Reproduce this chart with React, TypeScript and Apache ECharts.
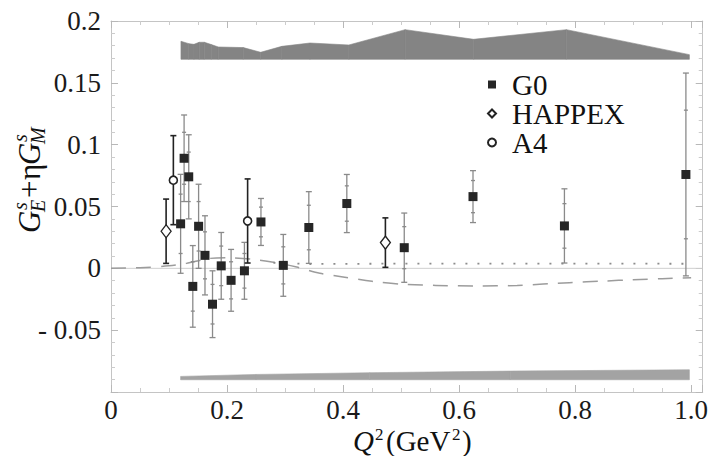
import React, { useEffect, useRef } from "react";
import * as echarts from "echarts";

// ---- data ----
const G0_Q2 = [0.12, 0.126, 0.134, 0.141, 0.151, 0.162, 0.175, 0.19, 0.207, 0.23, 0.2585, 0.297, 0.341, 0.4065, 0.5055, 0.624, 0.7816, 0.991];
const G0_VAL = [0.036, 0.089, 0.074, -0.0146, 0.034, 0.0105, -0.029, 0.002, -0.0097, -0.002, 0.0375, 0.0024, 0.033, 0.0524, 0.0167, 0.058, 0.0343, 0.0759];
const G0_ERR_TOT = [0.04, 0.035, 0.034, 0.033, 0.034, 0.032, 0.027, 0.027, 0.025, 0.023, 0.019, 0.025, 0.029, 0.0235, 0.028, 0.021, 0.03, 0.082];
const G0_ERR_STAT = [0.024, 0.021, 0.02, 0.02, 0.02, 0.019, 0.016, 0.016, 0.015, 0.014, 0.012, 0.015, 0.018, 0.0143, 0.017, 0.013, 0.018, 0.052];

const HAPPEX_Q2 = [0.095, 0.473];
const HAPPEX_VAL = [0.03, 0.0208];
const HAPPEX_ERR = [0.026, 0.02];

const A4_Q2 = [0.1075, 0.2355];
const A4_VAL = [0.0713, 0.0383];
const A4_ERR = [0.036, 0.034];

const DASHED_Q2 = [0, 0.05, 0.1, 0.13, 0.17, 0.2, 0.24, 0.28, 0.32, 0.36, 0.4, 0.45, 0.5, 0.56, 0.63, 0.7, 0.79, 0.85, 0.9, 0.95, 1.0];
const DASHED_VAL = [0, 0.0005, 0.002, 0.004, 0.008, 0.0085, 0.0075, 0.005, 0.001, -0.004, -0.007, -0.0105, -0.0128, -0.0138, -0.0143, -0.0138, -0.0116, -0.0103, -0.0092, -0.0084, -0.0076];

const DOTTED_Q2 = [0.28, 0.34, 0.5, 0.7, 0.85, 1.0];
const DOTTED_VAL = [0.0045, 0.0035, 0.0038, 0.0038, 0.0038, 0.0037];

const TOP_BAND_BASE = 0.169;
const TOP_BAND_Q2 = [0.1206, 0.134, 0.143, 0.152, 0.161, 0.173, 0.185, 0.228, 0.258, 0.2945, 0.343, 0.41, 0.507, 0.625, 0.785, 0.997];
const TOP_BAND_HEIGHT = [0.0146, 0.0127, 0.0121, 0.0138, 0.0138, 0.0119, 0.01, 0.0095, 0.0057, 0.0105, 0.0132, 0.0116, 0.024, 0.0162, 0.024, 0.0038];

const BOTTOM_BAND_BASE = -0.0901;
const BOTTOM_BAND_Q2 = [0.12, 0.25, 0.446, 0.688, 0.997];
const BOTTOM_BAND_HEIGHT = [0.0027, 0.0043, 0.0057, 0.007, 0.0081];

const X_MIN = 0;
const X_MAX = 1.02;
const Y_MIN = -0.1;
const Y_MAX = 0.2;

const SERIF = "Liberation Serif";

function errRender(color: string, width: number, cap: number, innerCap: number) {
  return (params: any, api: any) => {
    const x = api.value(0);
    const y = api.value(1);
    const e = api.value(2);
    const s = api.value(3);
    const top = api.coord([x, y + e]);
    const bot = api.coord([x, y - e]);
    const style = { stroke: color, lineWidth: width };
    const children: any[] = [
      { type: "line", shape: { x1: top[0], y1: top[1], x2: bot[0], y2: bot[1] }, style },
      { type: "line", shape: { x1: top[0] - cap, y1: top[1], x2: top[0] + cap, y2: top[1] }, style },
      { type: "line", shape: { x1: bot[0] - cap, y1: bot[1], x2: bot[0] + cap, y2: bot[1] }, style },
    ];
    if (s > 0) {
      const st = api.coord([x, y + s]);
      const sb = api.coord([x, y - s]);
      children.push({ type: "line", shape: { x1: st[0] - innerCap, y1: st[1], x2: st[0] + innerCap, y2: st[1] }, style });
      children.push({ type: "line", shape: { x1: sb[0] - innerCap, y1: sb[1], x2: sb[0] + innerCap, y2: sb[1] }, style });
    }
    return { type: "group", children };
  };
}

// one trapezoid per band segment: [q1, q2, base, h1, h2]
function bandSegments(qs: number[], hs: number[], base: number) {
  const out: number[][] = [];
  for (let i = 0; i < qs.length - 1; i++) out.push([qs[i], qs[i + 1], base, hs[i], hs[i + 1]]);
  return out;
}

function bandRender(color: string) {
  return (params: any, api: any) => {
    const q1 = api.value(0);
    const q2 = api.value(1);
    const b = api.value(2);
    const h1 = api.value(3);
    const h2 = api.value(4);
    const pts = [api.coord([q1, b]), api.coord([q2, b]), api.coord([q2, b + h2]), api.coord([q1, b + h1])];
    return {
      type: "polygon",
      shape: { points: pts },
      style: { fill: color, stroke: color, lineWidth: 0.6 },
    };
  };
}

function xLabel(v: number) {
  const r = v / 0.2;
  if (Math.abs(r - Math.round(r)) > 1e-6) return "";
  if (Math.abs(v) < 1e-9) return "0";
  if (Math.abs(v - 1) < 1e-9) return "1.0";
  return String(Number(v.toFixed(1)));
}

function yLabel(v: number) {
  if (v < -0.09) return "";
  if (Math.abs(v) < 1e-9) return "0";
  const s = String(Number(Math.abs(v).toFixed(2)));
  return v < 0 ? "- " + s : s;
}

function axisBase(extra: any) {
  return {
    type: "value",
    splitLine: { show: false },
    axisLine: { show: true, onZero: false, lineStyle: { color: "#c4c4c4", width: 1 } },
    axisTick: { show: true, inside: true, length: 7, lineStyle: { color: "#b8b8b8" } },
    ...extra,
  };
}

function txt(text: string, x: number, y: number, size: number, italic: boolean) {
  return {
    type: "text",
    x,
    y,
    silent: true,
    style: {
      text,
      fontFamily: SERIF,
      fontSize: size,
      fontStyle: italic ? "italic" : "normal",
      fill: "#111",
      align: "left",
      verticalAlign: "middle",
    },
  };
}

export default function App() {
  const ref = useRef<HTMLDivElement>(null);
  useEffect(() => {
    document.body.style.margin = "0";
    if (!ref.current) return;
    const chart = echarts.init(ref.current, undefined, { renderer: "svg" });

    const g0Err = G0_Q2.map((q, i) => [q, G0_VAL[i], G0_ERR_TOT[i], G0_ERR_STAT[i]]);
    const hapErr = HAPPEX_Q2.map((q, i) => [q, HAPPEX_VAL[i], HAPPEX_ERR[i], 0]);
    const a4Err = A4_Q2.map((q, i) => [q, A4_VAL[i], A4_ERR[i], 0]);

    const xCommon = { min: X_MIN, max: X_MAX, interval: 0.2 };
    const yCommon = { min: Y_MIN, max: Y_MAX, interval: 0.05 };
    const xMinor = { show: true, splitNumber: 4, length: 4, lineStyle: { color: "#cccccc" } };
    const yMinor = { show: true, splitNumber: 5, length: 4, lineStyle: { color: "#cccccc" } };

    chart.setOption({
      animation: false,
      grid: { left: 111, right: 5, top: 21, bottom: 64 },
      xAxis: [
        axisBase({
          ...xCommon,
          position: "bottom",
          minorTick: xMinor,
          axisLabel: { show: true, fontFamily: SERIF, fontSize: 27, color: "#1a1a1a", margin: 4, formatter: xLabel },
        }),
        axisBase({ ...xCommon, position: "top", minorTick: xMinor, axisLabel: { show: false } }),
      ],
      yAxis: [
        axisBase({
          ...yCommon,
          position: "left",
          minorTick: yMinor,
          axisLabel: { show: true, fontFamily: SERIF, fontSize: 27, color: "#1a1a1a", margin: 10, formatter: yLabel },
        }),
        axisBase({ ...yCommon, position: "right", minorTick: yMinor, axisLabel: { show: false } }),
      ],
      legend: {
        show: true,
        orient: "vertical",
        left: 482,
        top: 65,
        itemWidth: 8,
        itemHeight: 8,
        itemGap: 0,
        textStyle: { fontFamily: SERIF, fontSize: 29, color: "#111", lineHeight: 29, padding: [0, 0, 0, 11] },
        data: [
          { name: "G0", icon: "rect" },
          { name: "HAPPEX", icon: "diamond" },
          { name: "A4", icon: "circle" },
        ],
      },
      series: [
        {
          name: "top band",
          type: "custom",
          renderItem: bandRender("#848484"),
          data: bandSegments(TOP_BAND_Q2, TOP_BAND_HEIGHT, TOP_BAND_BASE),
          encode: { x: [0, 1], y: 2 },
          silent: true,
          z: 1,
        },
        {
          name: "bottom band",
          type: "custom",
          renderItem: bandRender("#a3a3a3"),
          data: bandSegments(BOTTOM_BAND_Q2, BOTTOM_BAND_HEIGHT, BOTTOM_BAND_BASE),
          encode: { x: [0, 1], y: 2 },
          silent: true,
          z: 1,
        },
        {
          name: "zero",
          type: "line",
          symbol: "none",
          silent: true,
          lineStyle: { color: "#cfcfcf", width: 1 },
          data: [
            [X_MIN, 0],
            [X_MAX, 0],
          ],
          z: 2,
        },
        {
          name: "dashed",
          type: "line",
          symbol: "none",
          silent: true,
          smooth: 0.3,
          lineStyle: { color: "#9c9c9c", width: 1.5, type: [15, 10] },
          data: DASHED_Q2.map((q, i) => [q, DASHED_VAL[i]]),
          z: 3,
        },
        {
          name: "dotted",
          type: "line",
          symbol: "none",
          silent: true,
          lineStyle: { color: "#8c8c8c", width: 1.8, type: [2, 10] },
          data: DOTTED_Q2.map((q, i) => [q, DOTTED_VAL[i]]),
          z: 3,
        },
        {
          name: "G0 errors",
          type: "custom",
          renderItem: errRender("#8a8a8a", 1.3, 3, 2),
          data: g0Err,
          encode: { x: 0, y: 1 },
          silent: true,
          z: 4,
        },
        {
          name: "HAPPEX errors",
          type: "custom",
          renderItem: errRender("#222222", 1.6, 3, 0),
          data: hapErr,
          encode: { x: 0, y: 1 },
          silent: true,
          z: 4,
        },
        {
          name: "A4 errors",
          type: "custom",
          renderItem: errRender("#222222", 1.6, 3, 0),
          data: a4Err,
          encode: { x: 0, y: 1 },
          silent: true,
          z: 4,
        },
        {
          name: "G0",
          type: "scatter",
          symbol: "rect",
          symbolSize: 9,
          itemStyle: { color: "#262626", opacity: 1 },
          data: G0_Q2.map((q, i) => [q, G0_VAL[i]]),
          z: 5,
        },
        {
          name: "HAPPEX",
          type: "scatter",
          symbol: "diamond",
          symbolSize: [10, 13],
          itemStyle: { color: "#ffffff", borderColor: "#222222", borderWidth: 1.3, opacity: 1 },
          data: HAPPEX_Q2.map((q, i) => [q, HAPPEX_VAL[i]]),
          z: 5,
        },
        {
          name: "A4",
          type: "scatter",
          symbol: "circle",
          symbolSize: 8,
          itemStyle: { color: "#ffffff", borderColor: "#222222", borderWidth: 1.6, opacity: 1 },
          data: A4_Q2.map((q, i) => [q, A4_VAL[i]]),
          z: 5,
        },
      ],
      graphic: [
        {
          type: "group",
          x: 29,
          y: 175,
          rotation: Math.PI / 2,
          children: [
            txt("G", -58, 0, 31, true),
            txt("s", -35, -9, 20, true),
            txt("E", -37, 9, 20, true),
            txt("+", -23, 0, 31, false),
            txt("η", -5, 0, 31, false),
            txt("G", 10, 0, 31, true),
            txt("s", 33, -9, 20, true),
            txt("M", 31, 9, 20, true),
          ],
        },
        {
          type: "group",
          x: 0,
          y: 0,
          children: [
            txt("Q", 353, 441, 29, true),
            txt("2", 375, 434, 17, false),
            txt("(GeV", 386, 441, 29, false),
            txt("2", 452, 434, 17, false),
            txt(")", 462, 441, 29, false),
          ],
        },
      ],
    });
    return () => chart.dispose();
  }, []);
  return <div ref={ref} style={{ width: 711, height: 456 }} />;
}
